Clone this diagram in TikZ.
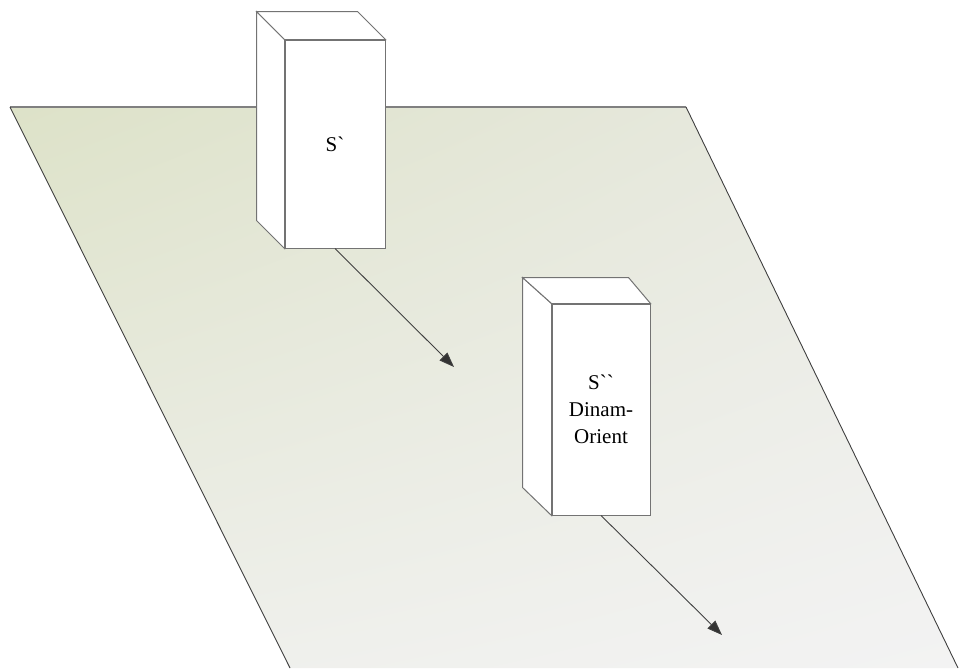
\documentclass[tikz,border=0pt]{standalone}
\usepackage{fontspec}
\setmainfont{Liberation Serif}[Ligatures=TeXOff]
\usetikzlibrary{arrows.meta,calc,shadings}

\definecolor{planeUL}{HTML}{DDE2C8}
\definecolor{planeUR}{HTML}{E9EAE3}
\definecolor{planeLL}{HTML}{EEEFEA}
\definecolor{planeLR}{HTML}{F3F3F3}

\begin{document}
\begin{tikzpicture}[x=1pt,y=-1pt,
  boxedge/.style={draw=black!55, fill=white, line width=1pt, line join=miter},
  frontface/.style={boxedge, inner sep=0pt, align=center,
    font=\fontsize{21}{27}\selectfont},
  motion/.style={draw=black!75, line width=0.9pt,
    -{Triangle[length=15pt,width=11pt,fill=black!80]}}]

\useasboundingbox (0,0) rectangle (960,670);

% ground plane
\coordinate (p1) at (10,107);
\coordinate (p2) at (686,107);
\coordinate (p3) at (958,668);
\coordinate (p4) at (290,668);
\shade[upper left=planeUL, upper right=planeUR, lower left=planeLL, lower right=planeLR]
  (p1) -- (p2) -- (p3) -- (p4) -- cycle;
\draw[black!50, line width=1.6pt] (p1) -- (p2);
\draw[black!75, line width=0.9pt] (p2) -- (p3);
\draw[black!75, line width=0.9pt] (p1) -- (p4);

% first block: front face, then side and top faces set back by the depth offset
\node[frontface, minimum width=100pt, minimum height=208pt] (s1) at (335,144) {S`};
\draw[boxedge] (s1.north west) -- ($(s1.north west)+(-28,-28)$)
  -- ($(s1.south west)+(-28,-28)$) -- (s1.south west) -- cycle;
\draw[boxedge] (s1.north west) -- ($(s1.north west)+(-28,-28)$)
  -- ($(s1.north east)+(-28,-28)$) -- (s1.north east) -- cycle;
\coordinate (t1) at (454,367);
\draw[motion] (s1.south) -- (t1);

% second block
\node[frontface, minimum width=98pt, minimum height=211pt] (s2) at (601,409.5) {S``\\Dinam-\\Orient};
\draw[boxedge] (s2.north west) -- ($(s2.north west)+(-29,-26)$)
  -- ($(s2.south west)+(-29,-28)$) -- (s2.south west) -- cycle;
\draw[boxedge] (s2.north west) -- ($(s2.north west)+(-29,-26)$)
  -- ($(s2.north east)+(-22,-26)$) -- (s2.north east) -- cycle;
\coordinate (t2) at (722,635);
\draw[motion] (s2.south) -- (t2);

\end{tikzpicture}
\end{document}
